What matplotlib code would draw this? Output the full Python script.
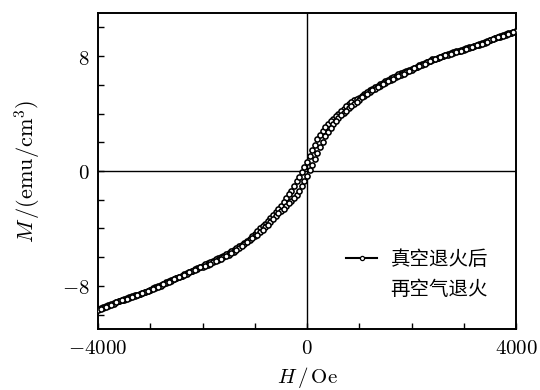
import numpy as np
import matplotlib.pyplot as plt
from matplotlib.lines import Line2D

plt.rcParams['font.family'] = ['Noto Sans CJK SC', 'DejaVu Sans']
plt.rcParams['mathtext.fontset'] = 'cm'

# field sweep (Oe), measured every 50 Oe; each branch kept as two interleaved lists
H_a = np.arange(4000, -4001, -100)      # 4000, 3900, ... -4000
H_b = np.arange(3950, -3951, -100)      # 3950, 3850, ... -3950

# M (emu/cm^3), branch going from +4000 to -4000 Oe
M_down_a = [9.77, 9.64, 9.53, 9.40, 9.27, 9.12, 8.97, 8.84, 8.72, 8.60,
            8.47, 8.37, 8.27, 8.15, 8.02, 7.90, 7.77, 7.60, 7.42, 7.27,
            7.12, 6.99, 6.81, 6.64, 6.46, 6.26, 6.06, 5.84, 5.61, 5.36,
            5.11, 4.94, 4.64, 4.34, 3.99, 3.59, 3.30, 2.80, 2.20, 1.45,
            0.66, -0.10, -0.72, -1.38, -1.88, -2.46, -2.86, -3.26, -3.66, -3.98,
            -4.39, -4.70, -4.99, -5.24, -5.49, -5.70, -5.90, -6.07, -6.24, -6.39,
            -6.58, -6.76, -6.93, -7.10, -7.28, -7.43, -7.58, -7.76, -7.93, -8.10,
            -8.26, -8.40, -8.53, -8.66, -8.78, -8.91, -9.03, -9.18, -9.33, -9.48,
            -9.63]
M_down_b = [9.70, 9.58, 9.46, 9.33, 9.20, 9.04, 8.90, 8.78, 8.66, 8.53,
            8.42, 8.32, 8.21, 8.09, 7.96, 7.83, 7.69, 7.51, 7.35, 7.19,
            7.05, 6.90, 6.72, 6.55, 6.36, 6.16, 5.95, 5.72, 5.49, 5.24,
            5.02, 4.79, 4.49, 4.17, 3.80, 3.45, 3.08, 2.52, 1.84, 1.06,
            0.28, -0.41, -1.05, -1.62, -2.15, -2.66, -3.06, -3.46, -3.82, -4.19,
            -4.55, -4.85, -5.12, -5.37, -5.60, -5.80, -5.99, -6.16, -6.32, -6.49,
            -6.67, -6.85, -7.02, -7.19, -7.36, -7.51, -7.67, -7.85, -8.02, -8.18,
            -8.33, -8.47, -8.60, -8.72, -8.85, -8.97, -9.11, -9.26, -9.41, -9.56]

# M (emu/cm^3), branch going from -4000 to +4000 Oe (listed at the same fields, high to low)
M_up_a = [9.74, 9.61, 9.49, 9.36, 9.23, 9.09, 8.94, 8.80, 8.68, 8.56,
          8.44, 8.33, 8.23, 8.11, 7.99, 7.86, 7.72, 7.56, 7.39, 7.23,
          7.06, 6.87, 6.70, 6.52, 6.34, 6.14, 5.94, 5.72, 5.49, 5.25,
          4.96, 4.65, 4.36, 4.05, 3.70, 3.24, 2.72, 2.05, 1.24, 0.44,
          -0.34, -1.06, -1.64, -2.06, -2.43, -2.79, -3.14, -3.54, -3.92, -4.27,
          -4.55, -4.82, -5.11, -5.37, -5.61, -5.82, -6.02, -6.20, -6.36, -6.52,
          -6.65, -6.80, -6.98, -7.15, -7.32, -7.48, -7.63, -7.80, -7.98, -8.14,
          -8.30, -8.44, -8.58, -8.70, -8.83, -8.95, -9.08, -9.23, -9.38, -9.52,
          -9.66]
M_up_b = [9.67, 9.55, 9.42, 9.30, 9.16, 9.01, 8.86, 8.74, 8.62, 8.50,
          8.38, 8.28, 8.17, 8.05, 7.92, 7.80, 7.64, 7.47, 7.30, 7.16,
          6.96, 6.78, 6.61, 6.43, 6.24, 6.04, 5.83, 5.61, 5.37, 5.12,
          4.79, 4.51, 4.21, 3.89, 3.51, 2.98, 2.45, 1.64, 0.84, 0.05,
          -0.72, -1.37, -1.88, -2.22, -2.64, -2.94, -3.34, -3.74, -4.10, -4.43,
          -4.67, -4.97, -5.24, -5.49, -5.72, -5.92, -6.11, -6.28, -6.44, -6.59,
          -6.71, -6.89, -7.06, -7.23, -7.40, -7.55, -7.71, -7.89, -8.06, -8.22,
          -8.37, -8.51, -8.64, -8.76, -8.89, -9.01, -9.15, -9.30, -9.45, -9.59]

x_ticks = [-4000, -3000, -2000, -1000, 0, 1000, 2000, 3000, 4000]
x_labels = ['$-4000$', '', '', '', '$0$', '', '', '', '$4000$']
y_ticks = [-10, -8, -6, -4, -2, 0, 2, 4, 6, 8, 10]
y_labels = ['', '$-8$', '', '', '', '$0$', '', '', '', '$8$', '']

fig = plt.figure(figsize=(5.4, 3.9), dpi=100)
ax = fig.add_axes([0.1815, 0.1564, 0.7741, 0.8103])

ax.axhline(0, color='k', lw=1.0, zorder=1)
ax.axvline(0, color='k', lw=1.0, zorder=1)

mk = dict(ls='none', marker='o', ms=3.7, mfc='white', mec='k', mew=1.15, zorder=3)
ax.plot(H_a, M_down_a, **mk)
ax.plot(H_b, M_down_b, **mk)
ax.plot(H_a, M_up_a, **mk)
ax.plot(H_b, M_up_b, **mk)

ax.set_xlim(-4000, 4000)
ax.set_ylim(-11, 11)
ax.set_xticks(x_ticks)
ax.set_xticklabels(x_labels)
ax.set_yticks(y_ticks)
ax.set_yticklabels(y_labels)
ax.tick_params(direction='in', length=4, width=1, labelsize=15, pad=6)
for s in ax.spines.values():
    s.set_linewidth(1.4)

ax.set_xlabel(r'$H\,/\,\mathrm{Oe}$', fontsize=15, labelpad=4)
ax.set_ylabel(r'$M\,/(\mathrm{emu/cm^3})$', fontsize=16, labelpad=14)

h1 = Line2D([], [], color='k', lw=1.5, marker='o', ms=3,
            mfc='white', mec='k', mew=0.9)
h2 = Line2D([], [], color='none')
ax.legend([h1, h2], ['真空退火后', '再空气退火'], loc='center left',
          bbox_to_anchor=(0.57, 0.172), frameon=False, fontsize=14,
          handlelength=1.6, handletextpad=0.7, labelspacing=0.45, borderpad=0)

fig.savefig('out.png', dpi=100)
